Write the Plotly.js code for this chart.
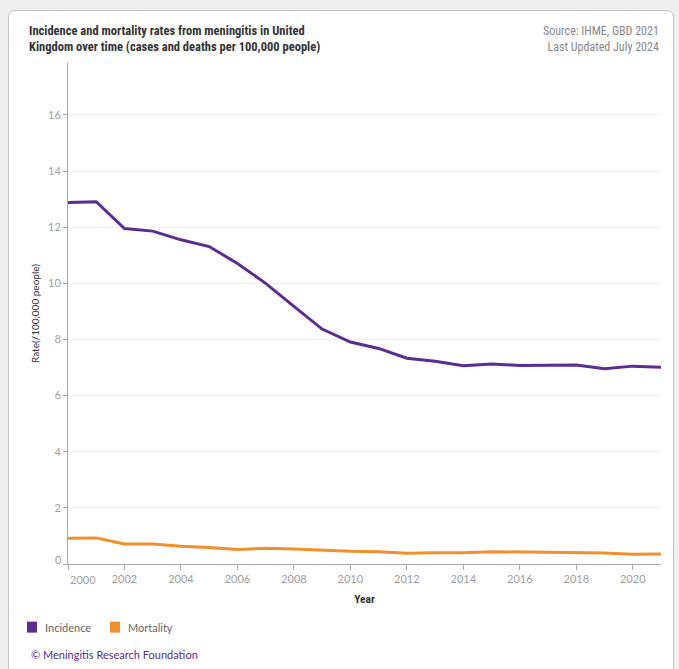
<!DOCTYPE html>
<html>
<head>
<meta charset="utf-8">
<script src="https://cdn.plot.ly/plotly-3.0.1.min.js"></script>
<style>
  html, body { margin: 0; padding: 0; background: #efefef; width: 679px; height: 669px; overflow: hidden; }
  #card { position: absolute; left: 8px; top: 10px; width: 666px; height: 690px; background: #fff;
          border: 1.5px solid #c4c4c4; border-radius: 7px; box-sizing: border-box; }
  #chart { position: absolute; left: 0; top: 0; width: 679px; height: 669px; }
</style>
</head>
<body>
<div id="card"></div>
<div id="chart"></div>
<script>
const years = [2000,2001,2002,2003,2004,2005,2006,2007,2008,2009,2010,2011,2012,2013,2014,2015,2016,2017,2018,2019,2020,2021];
const incidence = [12.88,12.91,11.95,11.86,11.55,11.31,10.71,10.00,9.18,8.37,7.91,7.68,7.33,7.22,7.06,7.13,7.07,7.07,7.09,6.96,7.05,7.01];
const mortality = [0.92,0.93,0.71,0.71,0.63,0.59,0.52,0.56,0.53,0.49,0.45,0.44,0.38,0.40,0.40,0.44,0.43,0.42,0.42,0.39,0.35,0.36];
const seriesNames = ['Incidence','Mortality'];
const seriesColors = ['#5b2d8e','#f28e2b'];
const yTicks = [0,2,4,6,8,10,12,14,16];
const xTicks = [2000,2002,2004,2006,2008,2010,2012,2014,2016,2018,2020];

const tickFont = {family: 'Lato, "Open Sans", sans-serif', size: 11, color: '#a0a0a0'};
const condensed = '"Liberation Sans Narrow", "Roboto Condensed", "Noto Sans", sans-serif';

const traces = [
  {x: years, y: incidence, mode: 'lines', name: seriesNames[0], line: {color: seriesColors[0], width: 3}, hoverinfo: 'skip'},
  {x: years, y: mortality, mode: 'lines', name: seriesNames[1], line: {color: seriesColors[1], width: 3}, hoverinfo: 'skip'}
];

// first tick labels are nudged inward like the reference (drawn as annotations)
const xText = xTicks.map((v, i) => i === 0 ? '' : String(v));
const yText = yTicks.map((v, i) => i === 0 ? '' : String(v));

const legendX = [-0.0691, 0.0708];   // paper positions of legend swatches
const shapes = [];
const annotations = [
  {xref: 'paper', yref: 'paper', x: -0.069, y: 1.014, xanchor: 'left', yanchor: 'bottom', align: 'left',
   text: '<b>Incidence and mortality rates from meningitis in United<br>Kingdom over time (cases and deaths per 100,000 people)</b>',
   showarrow: false, font: {family: condensed, size: 12.5, color: '#333'}},
  {xref: 'paper', yref: 'paper', x: 1.0, y: 1.014, xanchor: 'right', yanchor: 'bottom', align: 'right',
   text: 'Source: IHME, GBD 2021<br>Last Updated July 2024',
   showarrow: false, font: {family: condensed, size: 12, color: '#888'}},
  {xref: 'paper', yref: 'paper', x: -0.066, y: -0.163, xanchor: 'left', yanchor: 'top', align: 'left',
   text: '© Meningitis Research Foundation',
   showarrow: false, font: {family: 'Lato, sans-serif', size: 11, color: '#5b2d8e'}},
  {xref: 'x', yref: 'paper', x: xTicks[0], y: 0, xanchor: 'left', yanchor: 'top', yshift: -7, xshift: 0,
   text: String(xTicks[0]), showarrow: false, font: tickFont},
  {xref: 'paper', yref: 'y', x: 0, y: yTicks[0], xanchor: 'right', yanchor: 'bottom', xshift: -4, yshift: -4,
   text: String(yTicks[0]), showarrow: false, font: tickFont}
];
seriesNames.forEach((n, i) => {
  shapes.push({type: 'rect', xref: 'paper', yref: 'paper', layer: 'above',
    x0: legendX[i], x1: legendX[i] + 10/593, y0: -0.115, y1: -0.115 - 11/501,
    fillcolor: seriesColors[i], line: {width: 0}});
  annotations.push({xref: 'paper', yref: 'paper', x: legendX[i] + 16/593, y: -0.115 - 5.5/501,
    xanchor: 'left', yanchor: 'middle', text: n, showarrow: false,
    font: {family: 'Lato, sans-serif', size: 11, color: '#666'}});
});

const layout = {
  width: 679, height: 669,
  paper_bgcolor: 'rgba(0,0,0,0)', plot_bgcolor: 'rgba(0,0,0,0)',
  margin: {l: 68, r: 18, t: 63, b: 105},
  showlegend: false,
  xaxis: {
    range: [2000, 2021], tickvals: xTicks, ticktext: xText,
    showgrid: false, zeroline: false, showline: true, linecolor: '#aaa', linewidth: 1,
    ticks: 'outside', ticklen: 5, tickcolor: '#aaa', tickfont: tickFont,
    title: {text: '<b>Year</b>', font: {family: condensed, size: 11.5, color: '#333'}, standoff: 10}
  },
  yaxis: {
    range: [0, 17.85], tickvals: yTicks, ticktext: yText,
    showgrid: true, gridcolor: '#f0f0f0', gridwidth: 1, zeroline: false,
    showline: true, linecolor: '#aaa', linewidth: 1,
    ticks: 'outside', ticklen: 4, tickcolor: '#aaa', tickfont: tickFont,
    title: {text: 'Rate(/100,000 people)', font: {family: 'Lato, sans-serif', size: 10, color: '#333'}, standoff: 6}
  },
  shapes: shapes,
  annotations: annotations
};

Plotly.newPlot('chart', traces, layout, {displayModeBar: false, staticPlot: true});
</script>
</body>
</html>
